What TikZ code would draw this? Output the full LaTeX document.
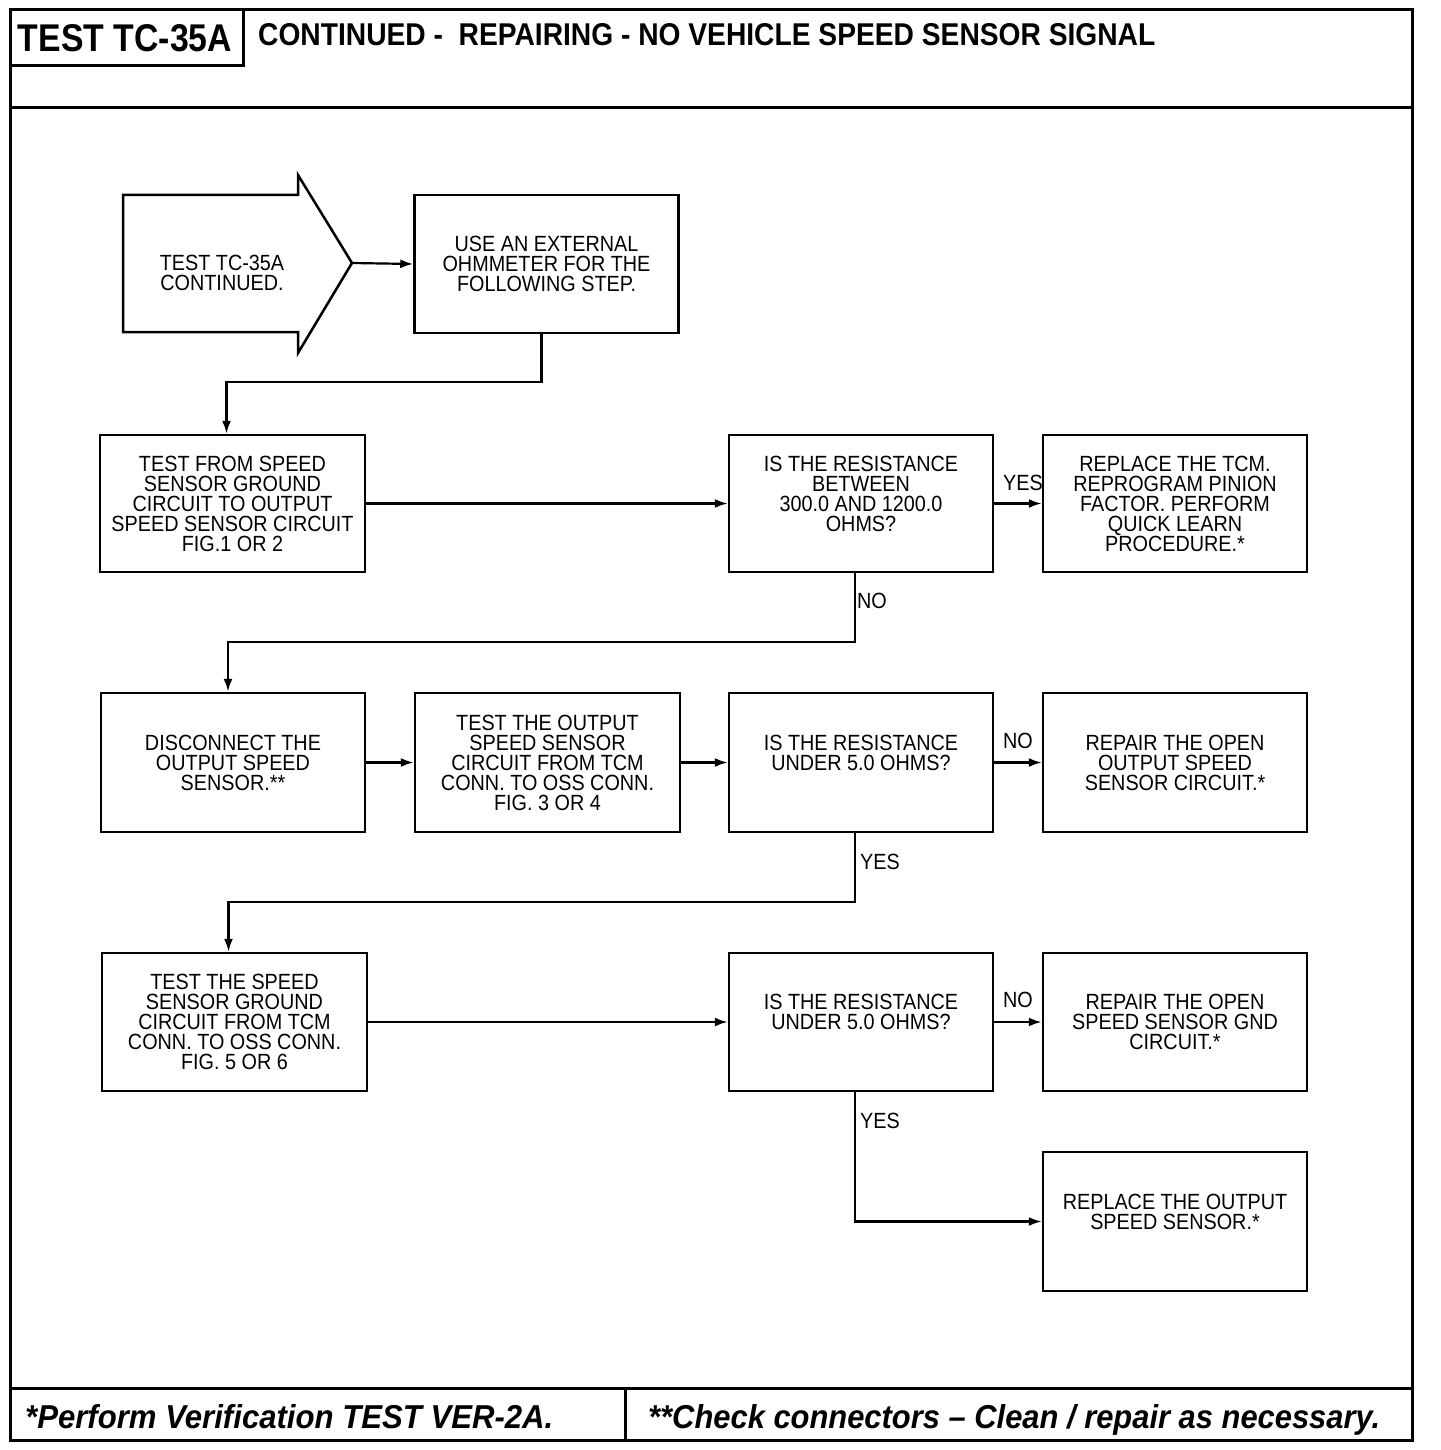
\documentclass[tikz,border=0pt]{standalone}
\usepackage{graphicx}
\usepackage{fontspec}
\setmainfont{Liberation Sans}
\newfontfamily\boxfont[FakeStretch=0.9]{Liberation Sans}
\usetikzlibrary{arrows.meta,calc}
\tikzset{
  flowbox/.style={draw, line width=2.5pt, inner sep=0pt, align=center,
    minimum width=264pt, minimum height=138pt,
    font=\boxfont\fontsize{22}{20}\selectfont},
  conn/.style={line width=2.2pt},
  arr/.style={conn, -{Latex[length=13pt,width=9pt]}},
  lbl/.style={font=\boxfont\fontsize{22}{20}\selectfont, inner sep=0pt},
  frame/.style={line width=3pt}
}
\begin{document}
\begin{tikzpicture}[x=1pt,y=-1pt]
\useasboundingbox (0,0) rectangle (1440,1450);
\fill[white] (0,0) rectangle (1440,1450);
% frame
\draw[frame] (10,10) rectangle (1412,1440);
\draw[frame] (10,108) -- (1412,108);
\draw[frame] (10,10) rectangle (243,66);
\draw[frame] (10,1388) -- (1412,1388);
\draw[frame] (625,1388) -- (625,1440);
\node[inner sep=0pt, anchor=base] (title) at (125,52) {\resizebox{214pt}{27pt}{\bfseries TEST TC-35A}};
\node[inner sep=0pt, anchor=base west] (heading) at (258,46) {\resizebox{897pt}{22pt}{\bfseries CONTINUED -\ \ REPAIRING - NO VEHICLE SPEED SENSOR SIGNAL}};
\node[inner sep=0pt, anchor=base west] (foot1) at (25,1428) {\resizebox{528pt}{24pt}{\bfseries\itshape *Perform Verification TEST VER-2A.}};
\node[inner sep=0pt, anchor=base west] (foot2) at (648,1428) {\resizebox{732pt}{24pt}{\bfseries\itshape **Check connectors – Clean / repair as necessary.}};
% start arrow
\draw[line width=2.5pt, line join=miter] (123,195) -- (298,195) -- (298,175) -- (352,263) -- (298,353) -- (298,332) -- (123,332) -- cycle;
\coordinate (tip) at (352,263);
\node[lbl, align=center] (start) at (222,273) {TEST TC-35A\\CONTINUED.};
% boxes
\node[flowbox] (A) at (546.5,264) {USE AN EXTERNAL\\OHMMETER FOR THE\\FOLLOWING STEP.};
\node[flowbox, minimum width=265pt, minimum height=137pt] (B) at (232.5,503.5) {TEST FROM SPEED\\SENSOR GROUND\\CIRCUIT TO OUTPUT\\SPEED SENSOR CIRCUIT\\FIG.1 OR 2};
\node[flowbox, minimum height=137pt] (C) at (861,503.5) {IS THE RESISTANCE\\BETWEEN\\300.0 AND 1200.0\\OHMS?\\\mbox{}};
\node[flowbox, minimum height=137pt] (D) at (1175,503.5) {REPLACE THE TCM.\\REPROGRAM PINION\\FACTOR. PERFORM\\QUICK LEARN\\PROCEDURE.*};
\node[flowbox, minimum height=139pt] (E) at (233,762.5) {DISCONNECT THE\\OUTPUT SPEED\\SENSOR.**};
\node[flowbox, minimum width=265pt, minimum height=139pt] (F) at (547.5,762.5) {TEST THE OUTPUT\\SPEED SENSOR\\CIRCUIT FROM TCM\\CONN. TO OSS CONN.\\FIG. 3 OR 4};
\node[flowbox, minimum height=139pt] (G) at (861,762.5) {IS THE RESISTANCE\\UNDER 5.0 OHMS?\\\mbox{}};
\node[flowbox, minimum height=139pt] (H) at (1175,762.5) {REPAIR THE OPEN\\OUTPUT SPEED\\SENSOR CIRCUIT.*};
\node[flowbox, minimum width=265pt] (I) at (234.5,1022) {TEST THE SPEED\\SENSOR GROUND\\CIRCUIT FROM TCM\\CONN. TO OSS CONN.\\FIG. 5 OR 6};
\node[flowbox] (J) at (861,1022) {IS THE RESISTANCE\\UNDER 5.0 OHMS?\\\mbox{}};
\node[flowbox] (K) at (1175,1022) {REPAIR THE OPEN\\SPEED SENSOR GND\\CIRCUIT.*};
\node[flowbox, minimum height=139pt] (L) at (1175,1221.5) {REPLACE THE OUTPUT\\SPEED SENSOR.*\\\mbox{}};
% connectors
\draw[arr] (tip) -- (A.west);
\draw[arr] ($(A.south)+(-5,0)$) -- ++(0,48) -| ($(B.north)+(-6,0)$);
\draw[arr] (B.east) -- (C.west);
\draw[arr] (C.east) -- (D.west);
\draw[arr] ($(C.south)+(-6,0)$) -- ++(0,69) -| ($(E.north)+(-5,0)$);
\draw[arr] (E.east) -- (F.west);
\draw[arr] (F.east) -- (G.west);
\draw[arr] (G.east) -- (H.west);
\draw[arr] ($(G.south)+(-6,0)$) -- ++(0,69) -| ($(I.north)+(-6,0)$);
\draw[arr] (I.east) -- (J.west);
\draw[arr] (J.east) -- (K.west);
\draw[arr] ($(J.south)+(-6,0)$) |- (L.west);
% labels
\node[lbl] (yes1) at (1023,483) {YES};
\node[lbl] (no1) at (872,601) {NO};
\node[lbl] (no2) at (1018,741) {NO};
\node[lbl] (yes2) at (880,862) {YES};
\node[lbl] (no3) at (1018,1000) {NO};
\node[lbl] (yes3) at (880,1121) {YES};
\end{tikzpicture}
\end{document}
